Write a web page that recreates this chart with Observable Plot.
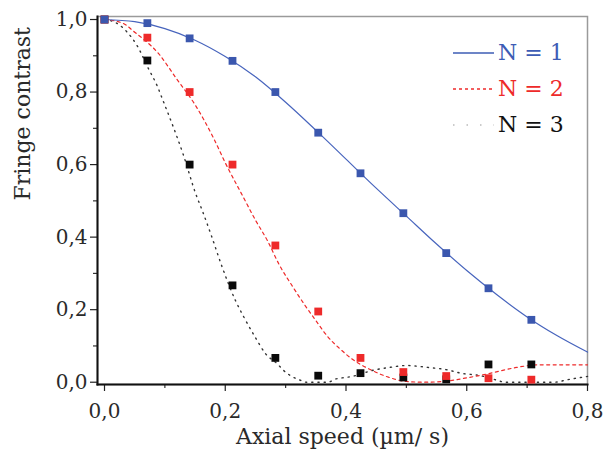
<!DOCTYPE html>
<html><head><meta charset="utf-8">
<script src="https://cdn.jsdelivr.net/npm/d3@7"></script>
<script src="https://cdn.jsdelivr.net/npm/@observablehq/plot@0.6"></script>
<style>
body{margin:0;background:#fff;}
#wrap{position:relative;width:603px;height:461px;}
#legend{position:absolute;left:453px;top:35px;font-family:"DejaVu Serif";font-size:22px;}
.row{display:flex;align-items:center;height:36px;}
.row span{margin-left:4px;line-height:1;}
</style></head><body><div id="wrap"><div id="legend"></div></div>
<script>
// measured points
const speed = [0, 0.071, 0.141, 0.212, 0.283, 0.354, 0.424, 0.495, 0.566, 0.636, 0.707];
const n1 = [1.0, 0.99, 0.948, 0.886, 0.80, 0.688, 0.576, 0.466, 0.356, 0.259, 0.172];
const n2 = [1.0, 0.95, 0.80, 0.60, 0.377, 0.195, 0.067, 0.028, 0.017, 0.011, 0.007];
const n3 = [1.0, 0.887, 0.60, 0.267, 0.067, 0.018, 0.025, 0.013, 0.008, 0.049, 0.049];

// fitted curves
const fit1X = [0, 0.05, 0.1, 0.15, 0.2, 0.25, 0.3, 0.35, 0.4, 0.45, 0.5, 0.55, 0.6, 0.65, 0.7, 0.75, 0.8];
const fit1Y = [1.0, 0.994, 0.975, 0.943, 0.898, 0.842, 0.772, 0.695, 0.615, 0.535, 0.458, 0.381, 0.308, 0.241, 0.18, 0.128, 0.083];
const fit2X = [0, 0.03, 0.05, 0.09, 0.12, 0.15, 0.18, 0.2, 0.23, 0.25, 0.27, 0.29, 0.31, 0.33, 0.35, 0.37, 0.39, 0.41, 0.44, 0.47, 0.5, 0.53, 0.56, 0.6, 0.64, 0.68, 0.72, 0.76, 0.8];
const fit2Y = [1.0, 0.99, 0.965, 0.905, 0.835, 0.765, 0.675, 0.605, 0.51, 0.447, 0.39, 0.322, 0.268, 0.217, 0.17, 0.125, 0.092, 0.064, 0.035, 0.014, 0.002, 0.0, 0.002, 0.012, 0.025, 0.04, 0.048, 0.048, 0.048];
const fit3X = [0, 0.02, 0.036, 0.054, 0.073, 0.087, 0.098, 0.113, 0.13, 0.151, 0.162, 0.176, 0.195, 0.217, 0.231, 0.249, 0.267, 0.286, 0.297, 0.308, 0.322, 0.335, 0.37, 0.383, 0.394, 0.41, 0.424, 0.438, 0.451, 0.469, 0.5, 0.535, 0.568, 0.59, 0.623, 0.645, 0.665, 0.745, 0.767, 0.8];
const fit3Y = [1.0, 0.99, 0.968, 0.928, 0.864, 0.818, 0.772, 0.708, 0.63, 0.52, 0.473, 0.409, 0.317, 0.225, 0.179, 0.126, 0.078, 0.051, 0.032, 0.018, 0.007, 0.0, 0.0, 0.009, 0.012, 0.016, 0.022, 0.03, 0.035, 0.04, 0.046, 0.041, 0.034, 0.025, 0.018, 0.008, 0.0, 0.0, 0.007, 0.016];

const xMajor = [0, 0.2, 0.4, 0.6, 0.8];
const xMinor = [0.1, 0.3, 0.5, 0.7];
const yMajor = [0, 0.2, 0.4, 0.6, 0.8, 1.0];
const yMinor = [0.1, 0.3, 0.5, 0.7, 0.9];
const seriesNames = ["N = 1", "N = 2", "N = 3"];
const colors = ["#3d5cb5", "#ee2a2a", "#111111"];
const dotColors = ["#3b57ae", "#ee2a2a", "#0a0a0a"];
const xTitle = "Axial speed (µm/ s)";
const yTitle = "Fringe contrast";

const fmt = d => d.toFixed(1).replace(".", ",");
const toRows = (xs, ys) => xs.map((x, i) => ({x, y: ys[i]}));

const chart = Plot.plot({
  width: 603, height: 461,
  marginLeft: 97, marginRight: 16, marginTop: 16, marginBottom: 77,
  x: {domain: [-0.0116, 0.8]},
  y: {domain: [-0.0063, 1.0083]},
  style: {fontFamily: "DejaVu Serif", fontSize: "19px", color: "#2a2a2a", background: "#fff"},
  marks: [
    Plot.frame({stroke: "#9a9a9a", strokeWidth: 1.5}),
    Plot.axisX({ticks: xMinor, tickSize: 4, tickFormat: () => "", label: null, strokeWidth: 1.2, stroke: "#333"}),
    Plot.axisX({ticks: xMajor, tickSize: 7, tickPadding: 12, tickFormat: fmt, label: null, fontSize: 20, strokeWidth: 1.2, stroke: "#222"}),
    Plot.axisY({ticks: yMinor, tickSize: 4, tickFormat: () => "", label: null, strokeWidth: 1.2, stroke: "#333"}),
    Plot.axisY({ticks: yMajor, tickSize: 7, tickPadding: 3, tickFormat: fmt, label: null, fontSize: 20, strokeWidth: 1.2, stroke: "#222"}),
    Plot.frame({anchor: "left", stroke: "#111", strokeWidth: 2}),
    Plot.frame({anchor: "bottom", stroke: "#111", strokeWidth: 2}),
    Plot.line(toRows(fit3X, fit3Y), {x: "x", y: "y", stroke: "#333", strokeWidth: 1.4, strokeDasharray: "1.2,5", curve: "monotone-x"}),
    Plot.line(toRows(fit2X, fit2Y), {x: "x", y: "y", stroke: colors[1], strokeWidth: 1.2, strokeDasharray: "3,3.5", curve: "monotone-x"}),
    Plot.line(toRows(fit1X, fit1Y), {x: "x", y: "y", stroke: "#4764bd", strokeWidth: 1.2, curve: "monotone-x"}),
    Plot.dot(toRows(speed, n3), {x: "x", y: "y", symbol: "square", r: 4.4, fill: dotColors[2], stroke: "none"}),
    Plot.dot(toRows(speed, n2), {x: "x", y: "y", symbol: "square", r: 4.4, fill: dotColors[1], stroke: "none"}),
    Plot.dot(toRows(speed, n1), {x: "x", y: "y", symbol: "square", r: 4.4, fill: dotColors[0], stroke: "none"}),
    Plot.text([xTitle], {frameAnchor: "bottom", dy: 59, fontSize: 22, fill: "#2a2a2a"}),
    Plot.text([yTitle], {frameAnchor: "left", rotate: -90, dx: -74.5, fontSize: 22, fill: "#2a2a2a"})
  ]
});
document.getElementById("wrap").prepend(chart);

const dashes = ["", "3,3", "1.5,12"];
const lineColors = [colors[0], colors[1], "#bbbbbb"];
const legend = document.getElementById("legend");
seriesNames.forEach((name, i) => {
  const row = document.createElement("div");
  row.className = "row";
  row.innerHTML = `<svg width="41" height="6"><line x1="0" y1="3" x2="41" y2="3" stroke="${lineColors[i]}" stroke-width="1.5" ${dashes[i] ? `stroke-dasharray="${dashes[i]}"` : ""}/></svg><span style="color:${colors[i]}">${name}</span>`;
  legend.appendChild(row);
});
</script>
</body></html>
